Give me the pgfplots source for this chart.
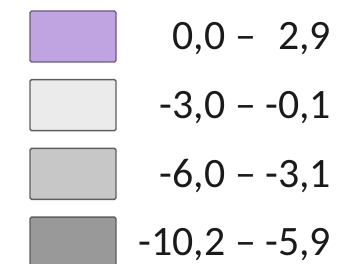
\documentclass[border=0pt]{standalone}
\usepackage{fontspec}
\setmainfont{Carlito}
\usepackage{pgfplots}
\pgfplotsset{compat=1.18}
\definecolor{cA}{HTML}{C0A4E2}
\definecolor{cAb}{HTML}{6A5A78}
\definecolor{cB}{HTML}{EBEBEB}
\definecolor{cC}{HTML}{C6C7C6}
\definecolor{cD}{HTML}{999999}
\definecolor{cBord}{HTML}{5E5E5E}
\definecolor{txt}{HTML}{1A1A1A}
\begin{document}
\begin{tikzpicture}
\useasboundingbox (0,0) rectangle (338bp,264bp);
\clip (0,0) rectangle (338bp,264bp);
\begin{axis}[
  at={(0,0)}, anchor=south west,
  width=338bp, height=264bp, scale only axis,
  hide axis,
  xmin=0, xmax=338, ymin=0, ymax=264,
  legend cell align=right,
  legend image code/.code={%
    \draw[#1, line width=1.4bp, rounded corners=1.5bp] (0bp,-25.5bp) rectangle (86bp,25.5bp);},
  legend style={
    at={(axis cs:29.3,253.7)}, anchor=north west,
    draw=none, fill=none,
    inner sep=0pt, outer sep=0pt,
    font=\fontsize{42}{50}\selectfont,
    text=txt,
    row sep=16.3bp, column sep=0bp,
    nodes={inner sep=0pt, inner xsep=0pt},
  },
]
\addlegendimage{draw=cAb, fill=cA}
\addlegendentry{\hspace{22bp}0,0 – \phantom{-}2,9}
\addlegendimage{draw=cBord, fill=cB}
\addlegendentry{\hspace{22bp}-3,0 – -0,1}
\addlegendimage{draw=cBord, fill=cC}
\addlegendentry{\hspace{22bp}-6,0 – -3,1}
\addlegendimage{draw=cBord, fill=cD}
\addlegendentry{\hspace{22bp}-10,2 – -5,9}
\end{axis}
\end{tikzpicture}
\end{document}
